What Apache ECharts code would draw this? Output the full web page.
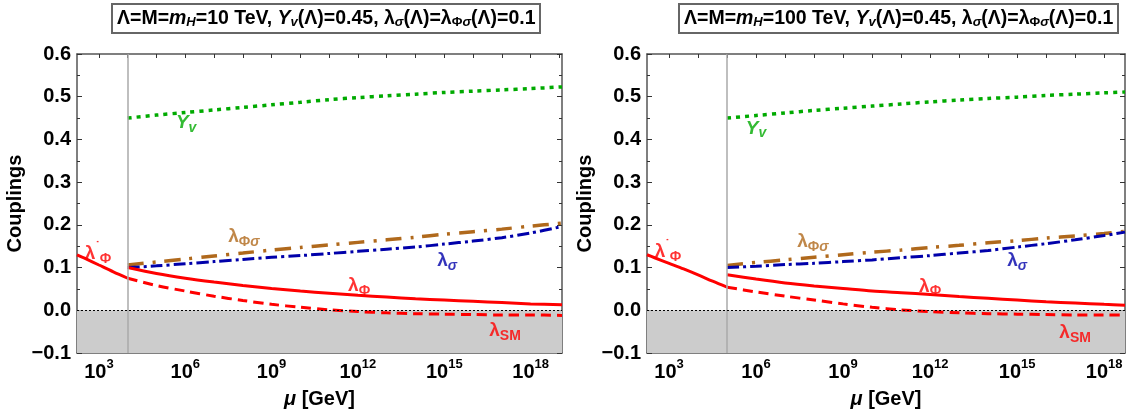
<!DOCTYPE html>
<html>
<head>
<meta charset="utf-8">
<script src="https://cdn.jsdelivr.net/npm/echarts@6.0.0/dist/echarts.min.js"></script>
<style>
html, body { margin: 0; padding: 0; background: #fff; }
#chart { width: 1126px; height: 409px; }
</style>
</head>
<body>
<div id="chart"></div>
<script>
// all x values are log10(mu / GeV)
const muMin = 2.238;          // m_top
const muMaxLeft = 19.09;      // M_Planck
const muMaxRight = 18.72;     // right panel is cut by the picture edge
const lambdaLog = [4, 5];     // Λ = 10 TeV, 100 TeV
const xLabelValues = [3, 6, 9, 12, 15, 18];
const xTickValues = [3, 4, 5, 6, 7, 8, 9, 10, 11, 12, 13, 14, 15, 16, 17, 18, 19];

// ---- Λ = 10 TeV ----
const muLow10 = [2.238, 2.5, 3, 3.5, 4];
const lamPhiPrime10 = [0.130, 0.122, 0.106, 0.090, 0.075];
const muHigh10 = [4, 5, 6, 7, 8, 9, 10, 11, 12, 13, 14, 15, 16, 17, 18, 19.09];
const Yv10 = [0.450, 0.457, 0.463, 0.469, 0.475, 0.481, 0.487, 0.493, 0.498, 0.502, 0.506, 0.510, 0.513, 0.516, 0.519, 0.523];
const lamSigma10 = [0.100, 0.104, 0.109, 0.114, 0.119, 0.124, 0.128, 0.133, 0.138, 0.143, 0.148, 0.155, 0.162, 0.170, 0.181, 0.196];
const lamPhiSigma10 = [0.106, 0.113, 0.120, 0.127, 0.134, 0.141, 0.147, 0.153, 0.159, 0.165, 0.171, 0.178, 0.184, 0.190, 0.197, 0.204];
const lamPhi10 = [0.100, 0.086, 0.075, 0.066, 0.058, 0.051, 0.045, 0.040, 0.035, 0.031, 0.027, 0.024, 0.021, 0.018, 0.015, 0.013];
const lamSM10 = [0.075, 0.058, 0.045, 0.033, 0.023, 0.014, 0.007, 0.001, -0.003, -0.006, -0.008, -0.009, -0.010, -0.011, -0.011, -0.012];

// ---- Λ = 100 TeV ----
const muLow100 = [2.238, 2.5, 3, 3.5, 4, 4.5, 5];
const lamPhiPrime100 = [0.130, 0.123, 0.110, 0.097, 0.083, 0.068, 0.054];
const muHigh100 = [5, 6, 7, 8, 9, 10, 11, 12, 13, 14, 15, 16, 17, 18, 18.72];
const Yv100 = [0.450, 0.456, 0.462, 0.468, 0.473, 0.478, 0.483, 0.488, 0.492, 0.496, 0.499, 0.503, 0.506, 0.509, 0.511];
const lamSigma100 = [0.100, 0.103, 0.107, 0.110, 0.114, 0.118, 0.123, 0.128, 0.134, 0.140, 0.148, 0.156, 0.165, 0.175, 0.183];
const lamPhiSigma100 = [0.105, 0.112, 0.118, 0.124, 0.130, 0.136, 0.141, 0.147, 0.152, 0.158, 0.163, 0.169, 0.174, 0.180, 0.185];
const lamPhi100 = [0.083, 0.073, 0.064, 0.057, 0.051, 0.045, 0.041, 0.037, 0.032, 0.028, 0.024, 0.020, 0.017, 0.014, 0.012];
const lamSM100 = [0.054, 0.043, 0.033, 0.024, 0.015, 0.007, 0.001, -0.003, -0.006, -0.008, -0.009, -0.010, -0.011, -0.011, -0.011];

// curve labels: λ'Φ, λΦσ, λσ, λΦ, λSM, Yv  (x = log10 mu, y = coupling)
const labelPos10 = [[2.97, 0.132], [8.04, 0.171], [15.1, 0.116], [12.04, 0.057], [17.11, -0.048], [6.03, 0.438]];
const labelPos100 = [[2.96, 0.137], [7.96, 0.160], [15.0, 0.115], [12.0, 0.056], [17.0, -0.053], [6.0, 0.426]];

const FONT = 'Liberation Sans, Arial, Helvetica, sans-serif';
const RED = '#ff0000', BLUE = '#0000aa', BROWN = '#b0691c', GREEN = '#00aa00';

function zip(xs, ys) {
    return xs.map((x, i) => [x, ys[i]]);
}

function richFor(color) {
    return {
        m: { color: color, fontSize: 19, fontWeight: 'bold', fontFamily: FONT },
        mi: { color: color, fontSize: 19, fontWeight: 'bold', fontStyle: 'italic', fontFamily: FONT },
        s: { color: color, fontSize: 14, fontWeight: 'bold', fontFamily: FONT, padding: [10, 0, 0, 0] },
        si: { color: color, fontSize: 14, fontWeight: 'bold', fontStyle: 'italic', fontFamily: FONT, padding: [10, 0, 0, 0] },
        p: { color: color, fontSize: 13, fontWeight: 'bold', fontFamily: FONT, padding: [0, 0, 14, 0] }
    };
}

const labelTexts = [
    ['{m|λ}{p|\u02D9}{s|Φ}', RED],
    ['{m|λ}{s|Φ}{si|σ}', BROWN],
    ['{m|λ}{si|σ}', BLUE],
    ['{m|λ}{s|Φ}', RED],
    ['{m|λ}{s|SM}', RED],
    ['{mi|Y}{si|v}', GREEN]
];

const titleRich = {
    it: { fontSize: 19.5, fontWeight: 'bold', fontStyle: 'italic', fontFamily: FONT, color: '#000' },
    sb: { fontSize: 13, fontWeight: 'bold', fontStyle: 'italic', fontFamily: FONT, color: '#000', padding: [8, 0, 0, 0] },
    su: { fontSize: 13, fontWeight: 'bold', fontFamily: FONT, color: '#000', padding: [8, 0, 0, 0] }
};

const panels = [
    {
        left: 77, width: 485, xMax: muMaxLeft, lambda: lambdaLog[0], titleLeft: 112,
        title: 'Λ=M={it|m}{sb|H}=10 TeV, {it|Y}{sb|v}(Λ)=0.45, λ{sb|σ}(Λ)=λ{su|Φ}{sb|σ}(Λ)=0.1',
        muLow: muLow10, lamPhiPrime: lamPhiPrime10, muHigh: muHigh10,
        Yv: Yv10, lamSigma: lamSigma10, lamPhiSigma: lamPhiSigma10, lamPhi: lamPhi10, lamSM: lamSM10,
        labels: labelPos10
    },
    {
        left: 647, width: 478, xMax: muMaxRight, lambda: lambdaLog[1], titleLeft: 679,
        title: 'Λ=M={it|m}{sb|H}=100 TeV, {it|Y}{sb|v}(Λ)=0.45, λ{sb|σ}(Λ)=λ{su|Φ}{sb|σ}(Λ)=0.1',
        muLow: muLow100, lamPhiPrime: lamPhiPrime100, muHigh: muHigh100,
        Yv: Yv100, lamSigma: lamSigma100, lamPhiSigma: lamPhiSigma100, lamPhi: lamPhi100, lamSM: lamSM100,
        labels: labelPos100
    }
];

const frameColor = '#555';
const grid = [], xAxis = [], yAxis = [], series = [], title = [];

panels.forEach((p, i) => {
    grid.push({ left: p.left, top: 54, width: p.width, height: 299, outerBoundsMode: 'none' });

    title.push({
        left: p.titleLeft, top: 3,
        text: p.title,
        borderColor: '#666', borderWidth: 2,
        padding: [5, 5, 4, 5],
        textStyle: { fontSize: 19.5, fontWeight: 'bold', fontFamily: FONT, color: '#000', rich: titleRich }
    });

    // bottom x axis with labels, top x axis as frame mirror
    xAxis.push({
        type: 'value', gridIndex: i, position: 'bottom', min: muMin, max: p.xMax,
        splitLine: { show: false },
        axisLine: { show: true, onZero: false, lineStyle: { color: frameColor, width: 1.5 } },
        axisTick: { show: true, inside: true, length: 4, customValues: xTickValues, lineStyle: { color: '#333' } },
        axisLabel: {
            show: true, margin: 5, customValues: xLabelValues,
            formatter: v => '{b|10}{s|' + v + '}',
            rich: {
                b: { fontSize: 20, fontWeight: 'bold', fontFamily: FONT, color: '#000' },
                s: { fontSize: 13, fontWeight: 'bold', fontFamily: FONT, color: '#000', padding: [0, 0, 15, 0] }
            }
        },
        name: '{i|μ} [GeV]', nameLocation: 'middle', nameGap: 36,
        nameTextStyle: {
            fontSize: 20, fontWeight: 'bold', fontFamily: FONT, color: '#000',
            rich: { i: { fontSize: 20, fontWeight: 'bold', fontStyle: 'italic', fontFamily: FONT, color: '#000' } }
        }
    });
    xAxis.push({
        type: 'value', gridIndex: i, position: 'top', min: muMin, max: p.xMax,
        splitLine: { show: false },
        axisLine: { show: true, onZero: false, lineStyle: { color: frameColor, width: 1.5 } },
        axisTick: { show: true, inside: true, length: 4, customValues: xTickValues, lineStyle: { color: '#333' } },
        axisLabel: { show: false }
    });

    const yCommon = {
        type: 'value', gridIndex: i, min: -0.1, max: 0.6, interval: 0.1,
        splitLine: { show: false },
        axisLine: { show: true, onZero: false, lineStyle: { color: frameColor, width: 1.5 } },
        axisTick: { show: true, inside: true, length: 5, lineStyle: { color: '#333' } },
        minorTick: { show: true, splitNumber: 2, length: 3, lineStyle: { color: '#333' } }
    };
    yAxis.push(Object.assign({}, yCommon, {
        position: 'left',
        axisLabel: {
            show: true, margin: 6,
            fontSize: 20, fontWeight: 'bold', fontFamily: FONT, color: '#000',
            formatter: v => v.toFixed(1).replace('-', '\u2212')
        },
        name: 'Couplings', nameLocation: 'middle', nameGap: 52,
        nameTextStyle: { fontSize: 20, fontWeight: 'bold', fontFamily: FONT, color: '#000' }
    }));
    yAxis.push(Object.assign({}, yCommon, { position: 'right', axisLabel: { show: false } }));

    const xi = 2 * i, yi = 2 * i;

    // shaded negative region, Λ line and zero line
    series.push({
        type: 'line', xAxisIndex: xi, yAxisIndex: yi, data: [], z: 1, silent: true,
        markArea: {
            silent: true,
            itemStyle: { color: '#cccccc' },
            label: { show: false },
            data: [[{ yAxis: -0.1 }, { yAxis: 0 }]]
        },
        markLine: {
            silent: true, symbol: 'none', label: { show: false },
            data: [
                { xAxis: p.lambda, lineStyle: { color: '#aaaaaa', width: 1.5, type: 'solid' } },
                { yAxis: 0, lineStyle: { color: '#000', width: 1, type: [2, 2] } }
            ]
        }
    });

    const line = (data, color, width, type) => ({
        type: 'line', xAxisIndex: xi, yAxisIndex: yi, data: data,
        showSymbol: false, symbol: 'none', smooth: 0.3, z: 3, silent: true,
        lineStyle: { color: color, width: width, type: type }
    });

    series.push(line(zip(p.muHigh, p.Yv), GREEN, 3.5, [4, 5]));
    series.push(line(zip(p.muHigh, p.lamPhiSigma), BROWN, 3.5, [16, 9, 3, 9]));
    series.push(line(zip(p.muHigh, p.lamSigma), BLUE, 3, [12, 4, 3, 4]));
    series.push(line(zip(p.muHigh, p.lamSM), RED, 3, [10, 6]));
    series.push(line(zip(p.muHigh, p.lamPhi), RED, 3, 'solid'));
    series.push(line(zip(p.muLow, p.lamPhiPrime), RED, 3, 'solid'));

    // curve names
    series.push({
        type: 'scatter', xAxisIndex: xi, yAxisIndex: yi, z: 5, silent: true,
        symbolSize: 1, itemStyle: { color: 'rgba(0,0,0,0)' },
        data: p.labels.map((pos, k) => ({
            value: pos,
            label: {
                show: true, position: 'inside',
                formatter: labelTexts[k][0],
                rich: richFor(labelTexts[k][1])
            }
        }))
    });
});

const myChart = echarts.init(document.getElementById('chart'));
myChart.setOption({
    backgroundColor: '#fff',
    animation: false,
    title: title,
    grid: grid,
    xAxis: xAxis,
    yAxis: yAxis,
    series: series
});
window.onresize = function () {
    myChart.resize();
};
</script>
</body>
</html>
